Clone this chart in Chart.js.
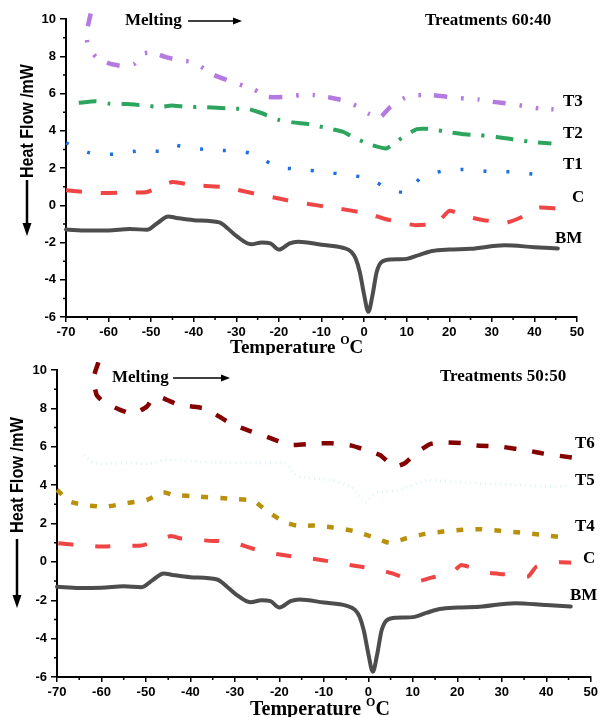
<!DOCTYPE html>
<html lang="en">
<head>
<meta charset="UTF-8">
<title>DSC curves</title>
<style>
  body { margin: 0; background: #fff; }
  #wrap { position: relative; width: 601px; height: 717px; overflow: hidden; }
  canvas { position: absolute; left: 0; }
</style>
</head>
<body>
<div id="wrap">
  <canvas id="top" width="601" height="355" style="top:0"></canvas>
  <canvas id="bottom" width="601" height="362" style="top:355px"></canvas>
</div>
<script src="https://cdn.jsdelivr.net/npm/chart.js@4.4.1/dist/chart.umd.min.js"></script>
<script>
// ---- data (temperature in degC, heat flow in mW) ----
const bmTemp = [-70,-65,-60,-55,-51,-48.5,-46,-44,-40,-34,-32,-30,-26.5,-24,-22,-20,-17.5,-15.5,-10,-5,-3,-2,-1,0,1,2,3,5,8,10,13,16,20,25,33,40,45.5];
const bmHeat = [-1.3,-1.36,-1.35,-1.27,-1.32,-0.95,-0.6,-0.68,-0.8,-0.92,-1.25,-1.65,-2.1,-2.0,-2.05,-2.38,-2.05,-1.96,-2.12,-2.28,-2.5,-2.85,-3.6,-4.8,-5.72,-4.8,-3.55,-2.95,-2.9,-2.88,-2.66,-2.46,-2.38,-2.34,-2.15,-2.25,-2.32];

// panel 1 : treatments 60:40
const cTempA = [-70,-62,-56,-51,-45,-40,-33,-25,-20,-15,-7,1,4.5,9.6,12,17,20,24.5,28,33.5,37,41,45.5];
const cHeatA = [0.8,0.66,0.68,0.71,1.25,1.07,0.98,0.59,0.36,0.13,-0.14,-0.45,-0.71,-0.98,-1.07,-0.98,-0.3,-0.63,-0.8,-0.93,-0.63,-0.13,-0.18];
const t1Temp = [-70,-64.4,-58.7,-53,-47.9,-44.6,-41.7,-37,-33.8,-29.6,-25.4,-20.5,-15.5,-9.6,-3.9,1.4,5.7,10,13.1,18.2,23.3,28.8,34.6,40.1,44];
const t1Heat = [3.35,2.81,2.74,2.92,2.9,3.23,3.08,2.99,2.95,2.92,2.72,2.03,1.95,1.79,1.63,1.43,0.86,0.68,1.43,1.83,1.92,1.82,1.79,1.66,1.64];
const t2Temp = [-67,-63,-59.7,-55.8,-51.9,-47.9,-45.2,-41.7,-38.5,-30.7,-27.2,-24.5,-20.2,-16.7,-12.7,-8.4,-4.9,-2.1,1.8,5.2,8.1,12.4,15.9,19.4,23.7,27.2,31.1,35.4,39.4,44];
const t2Heat = [5.5,5.58,5.45,5.43,5.36,5.28,5.35,5.28,5.28,5.19,5.17,4.98,4.6,4.45,4.35,4.12,3.94,3.6,3.23,3.05,3.5,4.09,4.09,3.94,3.81,3.76,3.67,3.52,3.4,3.31];
const t3Temp = [-64.2,-65.2,-64.8,-63,-59.7,-56.6,-53.9,-51.9,-49.6,-46.5,-43.8,-40.6,-38.3,-35.2,-31.7,-28.2,-25.9,-22.6,-18.9,-15,-11.6,-8.1,-4.6,-1.4,1,3.7,6.2,9.6,12.7,16.3,19.9,23.7,26.8,30.3,34,37.7,41,44.5];
const t3Heat = [10.3,9.2,8.55,7.97,7.6,7.47,7.6,8.15,8.2,7.95,7.8,7.7,7.44,6.99,6.68,6.4,6.22,5.82,5.82,5.91,5.91,5.79,5.61,5.29,4.93,4.71,5.29,5.77,5.91,5.91,5.82,5.73,5.68,5.55,5.46,5.32,5.2,5.15];

// panel 2 : treatments 50:50
const cTempB = [-69.7,-66.3,-60.3,-57,-51,-48.4,-44.3,-42.4,-38.6,-34.9,-31.5,-26.3,-22.9,-16.9,-13.1,-7.5,-4.2,1.8,5.2,10.8,14.2,18.7,20.9,26.5,30.3,35.9,37.8,43,45.6];
const cHeatB = [0.97,0.89,0.8,0.83,0.85,1.02,1.35,1.23,1.15,1.09,1.09,0.71,0.49,0.28,0.19,-0.02,-0.16,-0.38,-0.59,-1.02,-0.82,-0.59,-0.16,-0.56,-0.64,-0.76,-0.24,-0.02,-0.04];
const t4Temp = [-70,-67.1,-63,-58.9,-54.3,-49.8,-46.1,-43.9,-37.9,-30.4,-25.9,-22.9,-19.1,-16.1,-12.4,-7.9,-3.4,0.7,4.7,8.6,12.7,16.8,21.3,25.4,29.6,34.1,38.5,43.8];
const t4Heat = [3.75,3.14,2.93,2.88,3.06,3.23,3.63,3.49,3.4,3.28,3.19,2.66,2.1,1.89,1.89,1.79,1.61,1.32,1.0,1.23,1.46,1.58,1.67,1.7,1.62,1.53,1.42,1.28];
const t5Temp = [-63.9,-61.8,-55,-48.4,-46.2,-35,-25,-18.4,-16.9,-15.1,-7.9,-3.4,-0.8,1.8,7,13,22,32.6,41.6,44.5];
const t5Heat = [5.57,5.14,5.14,5.14,5.31,5.2,5.15,5.14,4.62,4.42,4.25,3.84,3.1,3.6,3.75,4.24,4.13,4.01,3.92,3.95];
const t6Temp = [-60.7,-61.8,-61.1,-59.6,-55.8,-52.9,-49.8,-48.4,-46.5,-42.7,-39.4,-36.4,-31.9,-29.3,-26.6,-22.9,-17.6,-10.9,-8.3,-3.8,-1.1,2.6,4.8,6,8.2,10.4,13.8,16.8,21.3,24.3,29.6,36.3,38.9,46];
const t6Heat = [10.4,9.57,8.7,8.35,7.92,7.71,8.09,8.52,8.56,8.18,8.09,7.97,7.34,7.05,6.82,6.53,6.09,6.18,6.18,6.06,5.87,5.57,5.14,4.96,5.14,5.61,6.13,6.23,6.18,6.06,6.01,5.78,5.66,5.43];

const SANS = '"Liberation Sans", Arial, sans-serif';
const SERIF = '"Liberation Serif", "Times New Roman", serif';

function pts(temps, heats) {
    return temps.map((t, i) => ({ x: t, y: heats[i] }));
}

function line(temps, heats, color, width, dash, extra) {
    return Object.assign({
        data: pts(temps, heats),
        borderColor: color,
        borderWidth: width,
        borderDash: dash,
        pointRadius: 0,
        fill: false,
        tension: 0.15,
        clip: { left: 4, top: 8, right: 4, bottom: 4 }
    }, extra || {});
}

// draws titles, labels, arrows and minor ticks
const decoPlugin = {
    id: 'deco',
    afterDraw(chart, args, o) {
        const ctx = chart.ctx;
        const xs = chart.scales.x, ys = chart.scales.y;
        const area = chart.chartArea;
        ctx.save();
        ctx.strokeStyle = '#000';
        ctx.fillStyle = '#000';
        ctx.lineWidth = 1.5;
        // minor ticks
        ctx.beginPath();
        for (let v = -65; v <= 45; v += 10) {
            const px = xs.getPixelForValue(v);
            ctx.moveTo(px, area.bottom); ctx.lineTo(px, area.bottom + 3);
        }
        for (let v = -5; v <= 9; v += 2) {
            const py = ys.getPixelForValue(v);
            ctx.moveTo(area.left, py); ctx.lineTo(area.left - 3, py);
        }
        ctx.stroke();

        // y title + arrow
        const yt = o.yTitle;
        ctx.save();
        ctx.translate(yt.x, yt.cy);
        ctx.rotate(-Math.PI / 2);
        ctx.font = 'bold 19px ' + SANS;
        ctx.textAlign = 'center';
        ctx.textBaseline = 'middle';
        ctx.fillText('Heat Flow /mW', 0, 0, yt.len);
        ctx.restore();
        ctx.lineWidth = 2.5;
        ctx.beginPath();
        ctx.moveTo(yt.ax, yt.arrowTop); ctx.lineTo(yt.ax, yt.arrowTip - 10);
        ctx.stroke();
        ctx.beginPath();
        ctx.moveTo(yt.ax - 4.5, yt.arrowTip - 13);
        ctx.lineTo(yt.ax + 4.5, yt.arrowTip - 13);
        ctx.lineTo(yt.ax, yt.arrowTip);
        ctx.closePath();
        ctx.fill();

        // x title
        const xt = o.xTitle;
        ctx.textAlign = 'left';
        ctx.textBaseline = 'alphabetic';
        ctx.font = 'bold ' + xt.size + 'px ' + SERIF;
        const w1 = ctx.measureText('Temperature ').width;
        ctx.fillText('Temperature ', xt.x, xt.base);
        ctx.font = 'bold ' + Math.round(xt.size * 0.62) + 'px ' + SERIF;
        const w2 = ctx.measureText('O').width;
        ctx.fillText('O', xt.x + w1, xt.base - xt.size * 0.45);
        ctx.font = 'bold ' + xt.size + 'px ' + SERIF;
        ctx.fillText('C', xt.x + w1 + w2, xt.base);

        // melting annotation
        const m = o.melting;
        ctx.font = 'bold 17px ' + SERIF;
        ctx.textBaseline = 'middle';
        ctx.fillText('Melting', m.x, m.y);
        ctx.lineWidth = 1.5;
        ctx.beginPath();
        ctx.moveTo(m.from, m.y); ctx.lineTo(m.to - 7, m.y);
        ctx.stroke();
        ctx.beginPath();
        ctx.moveTo(m.to - 9, m.y - 3.5); ctx.lineTo(m.to, m.y); ctx.lineTo(m.to - 9, m.y + 3.5);
        ctx.closePath();
        ctx.fill();

        ctx.fillText(o.treat.text, o.treat.x, o.treat.y);

        // series labels
        o.labels.forEach(l => ctx.fillText(l.text, l.x, l.y));
        ctx.restore();
    }
};

function makeChart(id, datasets, deco, pad, yWidth, xHeight) {
    const tickFont = { family: SANS, size: 13, weight: 'bold' };
    return new Chart(document.getElementById(id), {
        type: 'line',
        data: { datasets: datasets },
        plugins: [decoPlugin],
        options: {
            responsive: false,
            devicePixelRatio: 1,
            animation: false,
            layout: { padding: pad },
            plugins: { legend: { display: false }, tooltip: { enabled: false }, deco: deco },
            scales: {
                x: {
                    type: 'linear', min: -70, max: 50,
                    border: { color: '#000', width: 2 },
                    grid: {
                        drawOnChartArea: false, tickLength: 5, lineWidth: 1.5,
                        color: c => (c.tick && c.tick.value % 10 === 0) ? '#000' : 'rgba(0,0,0,0)'
                    },
                    ticks: {
                        stepSize: 5, autoSkip: false, maxRotation: 0, padding: 3, color: '#000', font: tickFont,
                        callback: v => (v % 10 === 0 ? v : '')
                    },
                    afterFit: s => { s.height = xHeight; }
                },
                y: {
                    min: -6, max: 10,
                    border: { color: '#000', width: 2 },
                    grid: {
                        drawOnChartArea: false, tickLength: 6, lineWidth: 1.5,
                        color: c => (c.tick && c.tick.value % 2 === 0) ? '#000' : 'rgba(0,0,0,0)'
                    },
                    ticks: {
                        stepSize: 1, autoSkip: false, padding: 4, color: '#000', font: tickFont,
                        callback: v => (v % 2 === 0 ? v : '')
                    },
                    afterFit: s => { s.width = yWidth; }
                }
            }
        }
    });
}

const bmStyle = { tension: 0, cubicInterpolationMode: 'monotone', borderCapStyle: 'round', borderJoinStyle: 'round' };

makeChart('top', [
    line(bmTemp, bmHeat, '#4d4d4d', 4, [], bmStyle),
    line(cTempA, cHeatA, '#ef4545', 4, [16, 19]),
    line(t1Temp, t1Heat, '#1f6fe3', 3.5, [3, 20]),
    line(t2Temp, t2Heat, '#2ea55e', 4, [18, 11, 3, 11]),
    line(t3Temp, t3Heat, '#b47ae0', 4.5, [13, 14, 2.5, 14, 2.5, 13])
], {
    yTitle: { x: 28, cy: 121, len: 114, ax: 27, arrowTop: 180, arrowTip: 236 },
    xTitle: { x: 230, base: 353, size: 19 },
    melting: { x: 125, y: 21, from: 188, to: 242 },
    treat: { text: 'Treatments 60:40', x: 425, y: 21 },
    labels: [
        { text: 'T3', x: 563, y: 102 },
        { text: 'T2', x: 563, y: 134 },
        { text: 'T1', x: 563, y: 165 },
        { text: 'C', x: 572, y: 198 },
        { text: 'BM', x: 555, y: 239 }
    ]
}, { left: 0, top: 19, right: 24, bottom: 0 }, 66, 38);

makeChart('bottom', [
    line(bmTemp, bmHeat, '#4d4d4d', 4, [], bmStyle),
    line(cTempB, cHeatB, '#ef4545', 4, [15, 22]),
    line(t4Temp, t4Heat, '#b8900c', 4.5, [7, 12]),
    line(t5Temp, t5Heat, 'rgba(200,236,236,0.6)', 3, [1, 4]),
    line(t6Temp, t6Heat, '#850000', 4.5, [12, 16])
], {
    yTitle: { x: 18, cy: 120, len: 116, ax: 17, arrowTop: 184, arrowTip: 253 },
    xTitle: { x: 250, base: 360, size: 20 },
    melting: { x: 112, y: 23, from: 173, to: 230 },
    treat: { text: 'Treatments 50:50', x: 440, y: 22 },
    labels: [
        { text: 'T6', x: 575, y: 89 },
        { text: 'T5', x: 575, y: 126 },
        { text: 'T4', x: 575, y: 172 },
        { text: 'C', x: 583, y: 204 },
        { text: 'BM', x: 570, y: 241 }
    ]
}, { left: 0, top: 15, right: 10, bottom: 0 }, 57, 40);
</script>
</body>
</html>
